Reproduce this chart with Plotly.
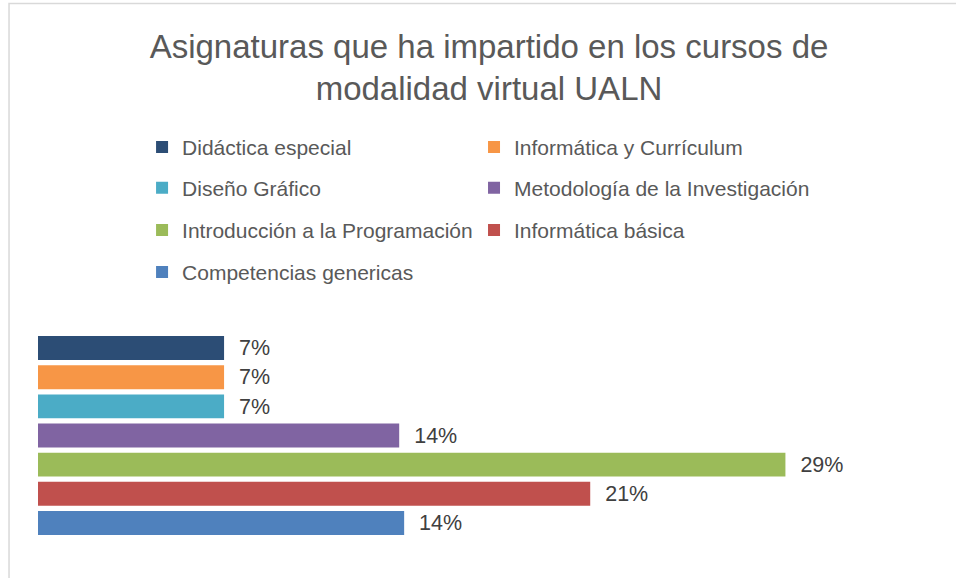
import plotly.graph_objects as go

# ---------- datos ----------
categoria = ['UALN']
asignaturas = [
    'Didáctica especial',
    'Informática y Currículum',
    'Diseño Gráfico',
    'Metodología de la Investigación',
    'Introducción a la Programación',
    'Informática básica',
    'Competencias genericas',
]
porcentajes = [7.14, 7.14, 7.14, 13.86, 28.68, 21.19, 14.05]
colores = ['#2C4D75', '#F79646', '#4BACC6', '#8064A2', '#9BBB59', '#C0504D', '#4F81BD']

FUENTE = 'Liberation Sans, Arial, sans-serif'
GRIS = '#595959'

# leyenda en dos columnas (como en Excel): una leyenda por entrada
columnas_x = [0.121, 0.507]
filas_y = [1.63, 1.47, 1.305, 1.14]

fig = go.Figure()
leyendas = {}
for i, (nombre, valor, color) in enumerate(zip(asignaturas, porcentajes, colores)):
    ley = 'legend' if i == 0 else f'legend{i + 1}'
    fig.add_trace(go.Bar(
        y=categoria, x=[valor], name=nombre, orientation='h',
        marker=dict(color=color, line=dict(width=0)),
        text=[f'\u00a0\u00a0{round(valor)}%'], textposition='outside',
        textfont=dict(family=FUENTE, size=22.5, color='#404040'),
        cliponaxis=False, legend=ley, hoverinfo='name+x',
    ))
    leyendas[ley] = dict(
        orientation='h', x=columnas_x[i % 2], y=filas_y[i // 2],
        xanchor='left', yanchor='middle', itemwidth=30,
        font=dict(family=FUENTE, size=21, color=GRIS),
        bgcolor='rgba(0,0,0,0)',
    )

fig.update_layout(
    width=956, height=578,
    margin=dict(l=38, r=58, t=308, b=14.5),
    paper_bgcolor='white', plot_bgcolor='white',
    barmode='group', bargap=0.2, bargroupgap=0.18,
    title=dict(text='Asignaturas que ha impartido en los cursos de<br>modalidad virtual UALN',
               x=0.5115, xanchor='center', xref='container',
               y=0.9005, yanchor='middle', yref='container',
               font=dict(family=FUENTE, size=33, color=GRIS)),
    xaxis=dict(range=[0, 33], visible=False, fixedrange=True),
    yaxis=dict(autorange='reversed', visible=False, fixedrange=True),
    showlegend=True,
    shapes=[dict(type='rect', xref='paper', yref='paper',
                 x0=-0.0337, x1=1.2, y0=-0.2, y1=2.194,
                 line=dict(color='#D9D9D9', width=1.5), fillcolor='rgba(0,0,0,0)',
                 layer='below')],
    **leyendas,
)

fig.write_html('out.html', config={'displayModeBar': False},
               post_script="document.body.style.margin='0';")
